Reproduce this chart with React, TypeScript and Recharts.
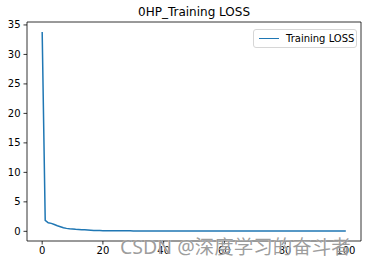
import React from "react";
import {
  LineChart,
  Line,
  XAxis,
  YAxis,
  ReferenceLine,
} from "recharts";

// Values (one per epoch, 0..100)
const chartTitle = "0HP_Training LOSS";
const seriesName = "Training LOSS";
const lossValues = [
  33.8, 1.85, 1.45, 1.35, 1.15, 0.95, 0.78, 0.62, 0.5, 0.44,
  0.4, 0.34, 0.3, 0.27, 0.26, 0.22, 0.18, 0.15, 0.13, 0.12,
  0.11, 0.1, 0.1, 0.09, 0.09, 0.09, 0.08, 0.08, 0.08, 0.08,
  0.07, 0.07, 0.07, 0.07, 0.07, 0.07, 0.06, 0.06, 0.06, 0.06,
  0.06, 0.06, 0.06, 0.06, 0.06, 0.05, 0.05, 0.05, 0.05, 0.05,
  0.05, 0.05, 0.05, 0.05, 0.05, 0.05, 0.05, 0.05, 0.05, 0.05,
  0.05, 0.05, 0.05, 0.05, 0.05, 0.05, 0.05, 0.05, 0.05, 0.05,
  0.05, 0.05, 0.05, 0.05, 0.05, 0.05, 0.05, 0.05, 0.05, 0.05,
  0.05, 0.05, 0.05, 0.05, 0.05, 0.05, 0.05, 0.05, 0.05, 0.05,
  0.05, 0.05, 0.05, 0.05, 0.05, 0.05, 0.05, 0.05, 0.05, 0.05,
  0.05,
];
const xTicks = [0, 20, 40, 60, 80, 100];
const yTicks = [0, 5, 10, 15, 20, 25, 30, 35];
const watermark = "CSDN @深度学习的奋斗者";

const data = lossValues.map((v, i) => ({ epoch: i, loss: v }));

const LINE = "#1f77b4";
const FONT = "'DejaVu Sans', sans-serif";

// legend drawn as an overlay so it doesn't eat into the plot area
const LegendBox = () => (
  <div
    style={{
      position: "absolute",
      left: 253,
      top: 29,
      display: "flex",
      alignItems: "center",
      border: "1px solid #d6d6d6",
      borderRadius: 3,
      background: "#fff",
      width: 104,
      height: 19,
      boxSizing: "border-box",
      fontFamily: FONT,
      fontSize: 10,
      color: "#000",
    }}
  >
    <span
      style={{
        display: "inline-block",
        width: 20,
        height: 0,
        borderTop: `1.5px solid ${LINE}`,
        marginLeft: 5,
        marginRight: 7,
      }}
    />
    <span>{seriesName}</span>
  </div>
);

export default function App() {
  return (
    <div
      style={{
        position: "absolute",
        left: 0,
        top: 0,
        width: 368,
        height: 264,
        background: "#fff",
        overflow: "hidden",
      }}
    >
      <div
        style={{
          position: "absolute",
          left: 27,
          width: 334,
          top: 5,
          textAlign: "center",
          fontFamily: FONT,
          fontSize: 12,
          color: "#000",
        }}
      >
        {chartTitle}
      </div>
      <LineChart
        width={368}
        height={264}
        data={data}
        margin={{ top: 22, right: 7, left: 0, bottom: 0 }}
      >
        <XAxis
          dataKey="epoch"
          type="number"
          domain={[-5, 105]}
          ticks={xTicks}
          allowDataOverflow
          height={23}
          tickSize={3.5}
          tickMargin={2}
          axisLine={{ stroke: "#000", strokeWidth: 0.8 }}
          tickLine={{ stroke: "#000", strokeWidth: 0.8 }}
          tick={{ fill: "#000", fontSize: 10, fontFamily: FONT }}
        />
        <YAxis
          type="number"
          domain={[-1.64, 35.5]}
          ticks={yTicks}
          allowDataOverflow
          width={27}
          tickSize={3.5}
          tickMargin={3}
          axisLine={{ stroke: "#000", strokeWidth: 0.8 }}
          tickLine={{ stroke: "#000", strokeWidth: 0.8 }}
          tick={{ fill: "#000", fontSize: 10, fontFamily: FONT }}
        />
        <ReferenceLine y={35.5} stroke="#000" strokeWidth={0.8} />
        <ReferenceLine x={105} stroke="#000" strokeWidth={0.8} />
        <Line
          dataKey="loss"
          name={seriesName}
          stroke={LINE}
          strokeWidth={1.5}
          dot={false}
          type="linear"
          isAnimationActive={false}
        />
      </LineChart>
      <LegendBox />
      <div
        style={{
          position: "absolute",
          left: 120,
          top: 231,
          fontFamily: "'Noto Sans', 'Noto Sans CJK SC', sans-serif",
          fontSize: 19.5,
          color: "rgba(125,125,125,0.75)",
          whiteSpace: "nowrap",
          textShadow: "0 0 1px #fff",
        }}
      >
        {watermark}
      </div>
    </div>
  );
}
